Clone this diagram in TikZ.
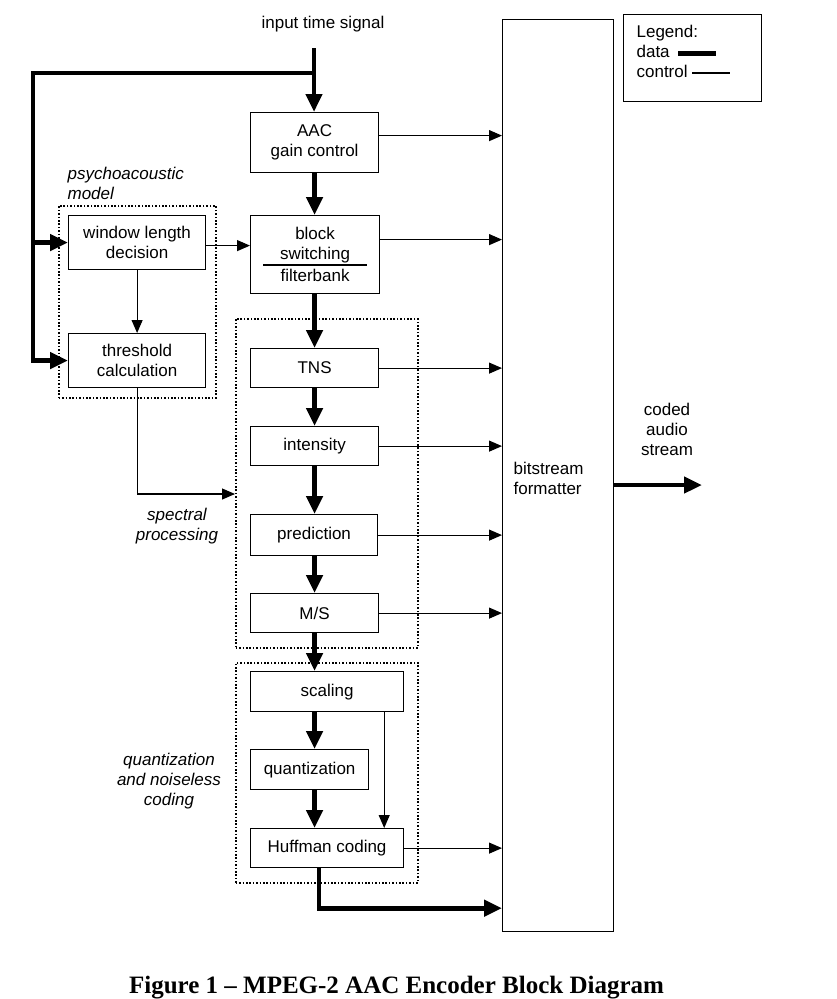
\documentclass[tikz,border=0pt]{standalone}
\usepackage{fontspec}
\setmainfont{Liberation Sans}
\newfontfamily\capfont{Liberation Serif}
\usetikzlibrary{arrows.meta}

\begin{document}
\begin{tikzpicture}[x=1pt,y=-1pt,line width=1.2pt,font=\fontsize{17}{20}\selectfont,
    blk/.style={draw,rectangle,inner sep=0pt,anchor=north west,align=center},
    grp/.style={draw,rectangle,inner sep=0pt,anchor=north west,line width=1.6pt,dash pattern=on 1.6pt off 1.8pt},
    data/.style={line width=4.6pt,-{Triangle[length=18pt,width=16pt]}},
    ctrl/.style={line width=1.1pt,-{Triangle[length=13pt,width=11pt]}},
    lbl/.style={inner sep=0pt,font=\fontsize{17}{20}\selectfont\itshape}]
    \useasboundingbox (0,0) rectangle (837,999);

    % groups
    \node[grp,minimum width=157pt,minimum height=192pt] (psy) at (58,205) {};
    \node[grp,minimum width=182pt,minimum height=329pt] (spec) at (235,318) {};
    \node[grp,minimum width=182pt,minimum height=220pt] (qnc) at (235,662) {};

    % blocks
    \node[blk,minimum width=128pt,minimum height=60pt] (aac) at (250,112) {AAC\\gain control};
    \node[blk,minimum width=129pt,minimum height=78pt] (sw) at (250,215) {block\\switching\\[2pt]filterbank};
    \node[blk,minimum width=137pt,minimum height=54pt] (win) at (68,215) {window length\\decision};
    \node[blk,minimum width=137pt,minimum height=54pt] (thr) at (68,333) {threshold\\calculation};
    \node[blk,minimum width=128pt,minimum height=39pt] (tns) at (250,348) {TNS};
    \node[blk,minimum width=128pt,minimum height=39pt] (int) at (250,426) {intensity};
    \node[blk,minimum width=127pt,minimum height=41pt] (pred) at (250,514) {prediction};
    \node[blk,minimum width=128pt,minimum height=39pt] (ms) at (250,593) {M/S};
    \node[blk,minimum width=153pt,minimum height=40pt] (scal) at (250,671) {scaling};
    \node[blk,minimum width=118pt,minimum height=40pt] (quant) at (250,749) {quantization};
    \node[blk,minimum width=153pt,minimum height=39pt] (huff) at (250,828) {Huffman coding};
    \node[blk,minimum width=111pt,minimum height=912pt] (bit) at (502,19) {};
    \draw[line width=1.8pt] (263,265) -- (367,265);

    % texts
    \node (sig) at (323,24) {input time signal};
    \node[lbl,anchor=west,align=left] at (67,183) {psychoacoustic\\model};
    \node[lbl,align=center] at (177,526) {spectral\\processing};
    \node[lbl,align=center] at (169,781) {quantization\\and noiseless\\coding};
    \node[inner sep=0pt,anchor=west,align=left] at (513,478) {bitstream\\formatter};
    \node[align=center] at (667,429) {coded\\audio\\stream};

    % legend
    \node[draw,rectangle,inner sep=0pt,anchor=north west,minimum width=138pt,minimum height=87pt] (leg) at (623,14) {};
    \node[inner sep=0pt,anchor=north west,align=left] at (636,24.6) {Legend:\\data\\control};
    \draw[line width=4.6pt] (678,53.5) -- (716,53.5);
    \draw[line width=1.1pt] (692,73) -- (730,73);

    % data paths
    \coordinate (in) at (314,48);
    \coordinate (br) at (314,73);
    \coordinate (lft) at (33,73);
    \coordinate (out) at (702,485);
    \draw[data] (in) -- (in |- aac.north);
    \draw[data] (br) -- (lft) |- (thr.west);
    \draw[data] (lft |- win.west) -- (win.west);
    \foreach \a/\b in {aac/sw, sw/tns, tns/int, int/pred, pred/ms, ms/scal, scal/quant, quant/huff}
        \draw[data] (aac.center |- \a.south) -- (aac.center |- \b.north);
    \draw[data] ([xshift=69pt]huff.south west) |- ([yshift=24pt]bit.south west);
    \draw[data] (bit.east |- out) -- (out);

    % control paths
    \coordinate (sp) at (235,494);
    \draw[ctrl] ([yshift=-3pt]win.east) -- ([yshift=-3pt]win.east -| sw.west);
    \draw[ctrl] (win.south) -- (thr.north);
    \draw[ctrl] (thr.south) |- (sp);
    \draw[ctrl] ([xshift=-20pt]scal.south east) -- ([xshift=-20pt]huff.north east);
    \draw[ctrl] ([yshift=7pt]aac.east) -- ([yshift=7pt]aac.east -| bit.west);
    \draw[ctrl] ([yshift=15pt]sw.east) -- ([yshift=15pt]sw.east -| bit.west);
    \foreach \n in {tns,int,pred,ms,huff}
        \draw[ctrl] (\n.east) -- (\n.east -| bit.west);

    % caption
    \node[anchor=base,font=\capfont\bfseries\fontsize{25}{30}\selectfont] at (396.5,993) {Figure 1 – MPEG-2 AAC Encoder Block Diagram};
\end{tikzpicture}
\end{document}
